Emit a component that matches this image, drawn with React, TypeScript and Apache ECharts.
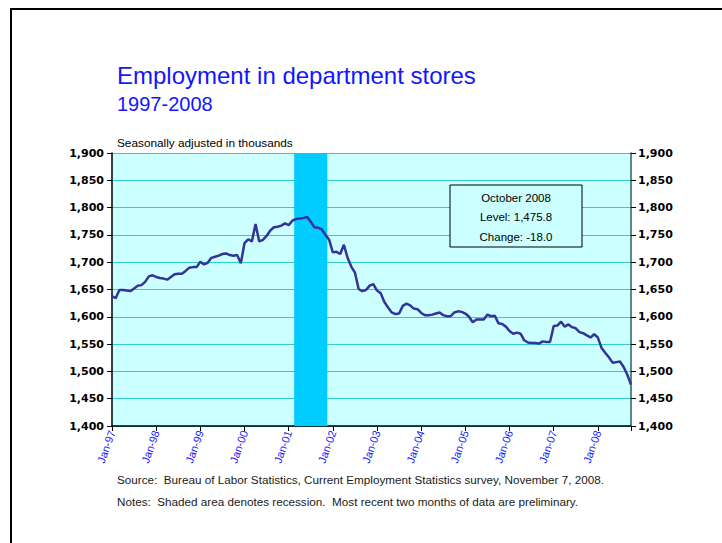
import React, { useEffect, useRef } from "react";
import * as echarts from "echarts";

// Tick labels for the x axis (every January)
const tickLabels = [
  "Jan-97", "Jan-98", "Jan-99", "Jan-00", "Jan-01", "Jan-02",
  "Jan-03", "Jan-04", "Jan-05", "Jan-06", "Jan-07", "Jan-08",
];

// Monthly employment in department stores, Jan-1997 .. Oct-2008 (thousands)
const employment = [
  // 1997
  1638, 1634, 1649, 1649, 1648, 1647, 1652, 1657, 1658, 1664, 1674, 1676,
  // 1998
  1673, 1671, 1670, 1668, 1673, 1678, 1679, 1679, 1684, 1690, 1691, 1691,
  // 1999
  1701, 1696, 1699, 1708, 1710, 1712, 1715, 1716, 1713, 1712, 1713, 1698,
  // 2000
  1735, 1742, 1738, 1770, 1738, 1741, 1748, 1758, 1764, 1765, 1767, 1771,
  // 2001
  1768, 1776, 1779, 1780, 1781, 1783, 1774, 1764, 1763, 1760, 1750, 1741,
  // 2002
  1718, 1719, 1715, 1732, 1708, 1692, 1681, 1651, 1647, 1649, 1657, 1660,
  // 2003
  1648, 1643, 1627, 1617, 1608, 1605, 1606, 1620, 1624, 1621, 1615, 1614,
  // 2004
  1607, 1603, 1603, 1604, 1606, 1608, 1603, 1601, 1601, 1608, 1610, 1609,
  // 2005
  1606, 1600, 1590, 1595, 1595, 1595, 1604, 1601, 1602, 1588, 1587, 1582,
  // 2006
  1574, 1569, 1571, 1569, 1557, 1553, 1552, 1552, 1551, 1555, 1554, 1554,
  // 2007
  1583, 1584, 1591, 1582, 1586, 1581, 1579, 1572, 1570, 1566, 1562, 1568,
  // 2008
  1562, 1543, 1534, 1526, 1516, 1517, 1518, 1508, 1493.8, 1475.8,
];

// Recession months (index from Jan-97): Mar-01 .. Nov-01
const recessionStartMonth = 50;
const recessionEndMonth = 58;

const yMin = 1400;
const yMax = 1900;
const yStep = 50;

const fmtComma = (v: number) =>
  v.toLocaleString("en-US", { maximumFractionDigits: 0 });

export default function App() {
  const ref = useRef<HTMLDivElement>(null);

  useEffect(() => {
    if (!ref.current) return;
    const chart = echarts.init(ref.current, null, { renderer: "svg" });
    const last = employment[employment.length - 1];
    const prev = employment[employment.length - 2];
    const change = last - prev;
    const lastMonthLabel = "October 2008";
    const levelText =
      "Level: " +
      last.toLocaleString("en-US", {
        minimumFractionDigits: 1,
        maximumFractionDigits: 1,
      });
    const changeText = "Change: " + change.toFixed(1);
    const points = employment.map((v, i) => [i, v]);

    const yLabel = {
      formatter: (v: number) => fmtComma(v),
      fontWeight: "bold" as const,
      fontSize: 11,
      fontFamily: "DejaVu Sans",
      color: "#000",
    };

    const boxText = (text: string, y: number) => ({
      type: "text",
      z: 101,
      x: 516,
      y,
      style: {
        text,
        fontSize: 11.5,
        fontFamily: "Liberation Sans",
        fill: "#000",
        align: "center",
        verticalAlign: "middle",
      },
    });

    chart.setOption({
      animation: false,
      backgroundColor: "#ffffff",
      grid: {
        left: 112,
        right: 91,
        top: 153,
        bottom: 117,
        show: true,
        backgroundColor: "#CCFFFF",
        borderWidth: 0,
      },
      xAxis: {
        type: "value",
        min: 0,
        max: employment.length - 1,
        interval: 12,
        axisLine: { show: true, lineStyle: { color: "#000", width: 1.5 } },
        axisTick: { show: true, length: 5, lineStyle: { color: "#000" } },
        splitLine: { show: false },
        axisLabel: {
          rotate: 70,
          margin: 5,
          fontSize: 11,
          fontFamily: "Liberation Sans",
          color: "#2020ff",
          formatter: (v: number) =>
            v % 12 === 0 && tickLabels[v / 12] ? tickLabels[v / 12] : "",
        },
      },
      yAxis: [
        {
          type: "value",
          position: "left",
          min: yMin,
          max: yMax,
          interval: yStep,
          axisLine: { show: true, lineStyle: { color: "#000", width: 1.5 } },
          axisTick: { show: true, length: 5, lineStyle: { color: "#000" } },
          splitLine: { show: true, lineStyle: { color: "#33CCCC", width: 1 } },
          axisLabel: { ...yLabel, margin: 8 },
        },
        {
          type: "value",
          position: "right",
          min: yMin,
          max: yMax,
          interval: yStep,
          axisLine: { show: true, lineStyle: { color: "#2f5f5f", width: 1.5 } },
          axisTick: { show: true, length: 5, lineStyle: { color: "#000" } },
          splitLine: { show: false },
          axisLabel: { ...yLabel, margin: 7 },
        },
      ],
      series: [
        {
          type: "line",
          z: 1,
          silent: true,
          data: points,
          symbol: "none",
          lineStyle: { width: 0, opacity: 0 },
          markArea: {
            silent: true,
            itemStyle: { color: "#00CCFF", opacity: 1 },
            data: [
              [
                { xAxis: recessionStartMonth - 0.5 },
                { xAxis: recessionEndMonth + 0.5 },
              ],
            ],
          },
        },
        {
          type: "line",
          z: 3,
          data: points,
          symbol: "none",
          showSymbol: false,
          lineStyle: { color: "#333399", width: 2.5 },
        },
      ],
      graphic: [
        {
          type: "rect",
          z: 100,
          shape: { x: 11, y: 9, width: 760, height: 600 },
          style: { fill: "transparent", stroke: "#000", lineWidth: 2 },
        },
        {
          type: "text",
          z: 100,
          x: 117,
          y: 75,
          style: {
            text: "Employment in department stores",
            fontSize: 24,
            fontFamily: "Liberation Sans",
            fill: "#1414ff",
            verticalAlign: "middle",
          },
        },
        {
          type: "text",
          z: 100,
          x: 117,
          y: 104,
          style: {
            text: "1997-2008",
            fontSize: 20,
            fontFamily: "Liberation Sans",
            fill: "#1414ff",
            verticalAlign: "middle",
          },
        },
        {
          type: "text",
          z: 100,
          x: 117,
          y: 143,
          style: {
            text: "Seasonally adjusted in thousands",
            fontSize: 11.8,
            fontFamily: "Liberation Sans",
            fill: "#000",
            verticalAlign: "middle",
          },
        },
        {
          type: "rect",
          z: 100,
          shape: { x: 450, y: 185, width: 132, height: 62 },
          style: { fill: "#CCFFFF", stroke: "#000", lineWidth: 1 },
        },
        boxText(lastMonthLabel, 198),
        boxText(levelText, 217),
        boxText(changeText, 237),
        {
          type: "text",
          z: 100,
          x: 117,
          y: 479,
          style: {
            text:
              "Source:  Bureau of Labor Statistics, Current Employment Statistics survey, November 7, 2008.",
            fontSize: 11.7,
            fontFamily: "Liberation Sans",
            fill: "#1a1a1a",
            verticalAlign: "middle",
          },
        },
        {
          type: "text",
          z: 100,
          x: 117,
          y: 501,
          style: {
            text:
              "Notes:  Shaded area denotes recession.  Most recent two months of data are preliminary.",
            fontSize: 11.7,
            fontFamily: "Liberation Sans",
            fill: "#1a1a1a",
            verticalAlign: "middle",
          },
        },
      ],
    });

    return () => chart.dispose();
  }, []);

  return (
    <div
      ref={ref}
      style={{
        position: "absolute",
        left: 0,
        top: 0,
        width: 722,
        height: 543,
        background: "#fff",
      }}
    />
  );
}
